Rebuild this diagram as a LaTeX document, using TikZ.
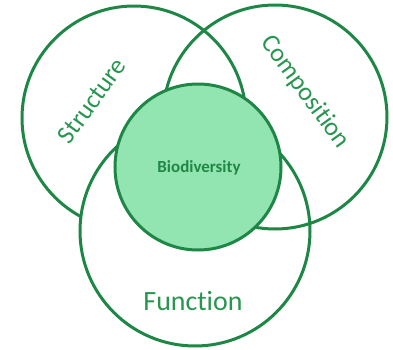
\documentclass[tikz,border=0pt]{standalone}
\usepackage{fontspec}
\setmainfont{Carlito}[Ligatures = NoCommon]

\definecolor{ringgreen}{RGB}{30,135,70}
\definecolor{corefill}{RGB}{146,229,176}
\definecolor{textgreen}{RGB}{40,150,80}

\begin{document}
\begin{tikzpicture}[x = 1bp, y = -1bp,
	ring/.style = {draw = ringgreen, line width = 3bp},
	venntext/.style = {text = textgreen, inner sep = 0pt, font = \fontsize{26}{26}\selectfont}]

	\useasboundingbox (0, 0) rectangle (393, 350);

	% Structure ring

	\draw [ring] (134, 118) circle (112);

	% Function ring (covers the structure arc)

	\draw [ring, fill = white] (195, 231) circle (115);

	% Composition ring

	\draw [ring] (275, 117) circle (112);

	% Biodiversity core

	\draw [ring, fill = corefill] (198, 167) circle (83);

	% Labels

	\node [venntext, rotate = 54] (structure) at (92, 101) {Structure};
	\node [venntext, rotate = -54] (composition) at (305, 92) {Composition};
	\node [venntext, font = \fontsize{28}{28}\selectfont] (function) at (193, 301) {Function};
	\node [text = ringgreen, font = \fontsize{17}{17}\selectfont\bfseries] (biodiversity) at (199, 168) {Biodiversity};

\end{tikzpicture}
\end{document}
